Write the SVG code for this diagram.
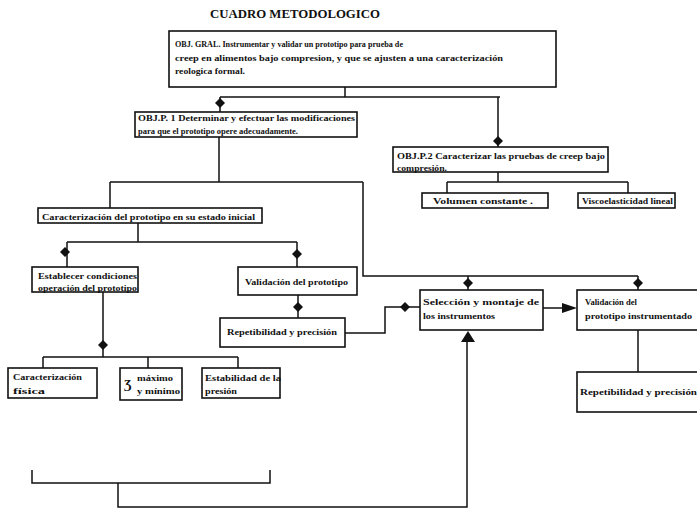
<svg xmlns="http://www.w3.org/2000/svg" xmlns:xlink="http://www.w3.org/1999/xlink" width="697" height="508" viewBox="0 0 697 508">
<style>
.box{fill:#fff;stroke:#111;stroke-width:1.6}
.t{font-family:"Liberation Serif","Times New Roman",serif;font-size:9px;font-weight:bold;fill:#111}
.ttl{font-family:"Liberation Serif","Times New Roman",serif;font-size:12px;font-weight:bold;fill:#111}
.ln{fill:none;stroke:#111;stroke-width:1.5}
.hd{fill:#111}
</style>
<defs>
<polygon id="dv" points="0,-5 5,0 0,5 -5,0" class="hd"/>
</defs>
<rect width="697" height="508" fill="#fff"/>
<text class="ttl" x="210" y="18" textLength="170" lengthAdjust="spacingAndGlyphs">CUADRO METODOLOGICO</text>

<g id="connectors">
<path class="ln" d="M345,87 V97 M220,97 H500 M220,97 V112 M498,97 V147"/>
<path class="ln" d="M219,137 V182 M110,182 H363 M110,182 V208 M363,182 V276 H638 M468,276 V290 M638,276 V290"/>
<path class="ln" d="M498,172 V182 M447,182 H628 M447,182 V193 M628,182 V193"/>
<path class="ln" d="M138,223 V242 M67,242 H297 M67,242 V267 M297,242 V267"/>
<path class="ln" d="M298,295 V318"/>
<path class="ln" d="M345,333 H385 V307 H420"/>
<path class="ln" d="M543,308 H566"/>
<polygon class="hd" points="562,303 577,308 562,313"/>
<path class="ln" d="M638,330 V372"/>
<path class="ln" d="M103,292 V357 M43,357 H238 M43,357 V368 M148,357 V368 M238,357 V368"/>
<path class="ln" d="M32,470 V483 H270 V470 M118,483 V507 H467 V338"/>
<polygon class="hd" points="461,342 468,331 475,342"/>
<use xlink:href="#dv" x="220" y="103"/>
<use xlink:href="#dv" x="498" y="141"/>
<use xlink:href="#dv" x="468" y="283"/>
<use xlink:href="#dv" x="638" y="283"/>
<use xlink:href="#dv" x="65" y="252"/>
<use xlink:href="#dv" x="297" y="254"/>
<use xlink:href="#dv" x="298" y="307"/>
<use xlink:href="#dv" x="405" y="307"/>
<use xlink:href="#dv" x="103" y="345"/>
</g>

<g id="obj-gral">
<rect class="box" x="169" y="31" width="387" height="56"/>
<text class="t" x="175" y="47" textLength="228" lengthAdjust="spacingAndGlyphs">OBJ. GRAL. Instrumentar y  validar un prototipo para prueba de</text>
<text class="t" x="175" y="61" textLength="328" lengthAdjust="spacingAndGlyphs">creep en alimentos bajo compresion, y que se ajusten a una caracterización</text>
<text class="t" x="175" y="74" textLength="70" lengthAdjust="spacingAndGlyphs">reologica formal.</text>
</g>

<g id="objp1">
<rect class="box" x="135" y="112" width="222" height="25"/>
<text class="t" x="138" y="121" textLength="217" lengthAdjust="spacingAndGlyphs">OBJ.P. 1 Determinar y efectuar las modificaciones</text>
<text class="t" x="138" y="134" textLength="160" lengthAdjust="spacingAndGlyphs">para que el prototipo opere adecuadamente.</text>
</g>

<g id="objp2">
<rect class="box" x="393" y="147" width="215" height="25"/>
<text class="t" x="397" y="159" textLength="208" lengthAdjust="spacingAndGlyphs">OBJ.P.2 Caracterizar las pruebas de creep bajo</text>
<text class="t" x="397" y="171" textLength="50" lengthAdjust="spacingAndGlyphs">compresión.</text>
</g>

<g id="volumen">
<rect class="box" x="422" y="193" width="126" height="15"/>
<text class="t" x="433" y="204" textLength="100" lengthAdjust="spacingAndGlyphs">Volumen constante .</text>
</g>

<g id="visco">
<rect class="box" x="578" y="193" width="97" height="15"/>
<text class="t" x="582" y="204" textLength="91" lengthAdjust="spacingAndGlyphs">Viscoelasticidad  lineal</text>
</g>

<g id="caract-inicial">
<rect class="box" x="38" y="208" width="224" height="15"/>
<text class="t" x="42" y="220" textLength="213" lengthAdjust="spacingAndGlyphs">Caracterización del prototipo en su estado inicial</text>
</g>

<g id="establecer">
<rect class="box" x="32" y="267" width="106" height="25"/>
<text class="t" x="38" y="279" textLength="99" lengthAdjust="spacingAndGlyphs">Establecer condiciones</text>
<text class="t" x="38" y="291" textLength="99" lengthAdjust="spacingAndGlyphs">operación del prototipo</text>
</g>

<g id="validacion">
<rect class="box" x="238" y="267" width="119" height="28"/>
<text class="t" x="245" y="285" textLength="103" lengthAdjust="spacingAndGlyphs">Validación del prototipo</text>
</g>

<g id="repet1">
<rect class="box" x="220" y="318" width="125" height="29"/>
<text class="t" x="227" y="335" textLength="110" lengthAdjust="spacingAndGlyphs">Repetibilidad y precisión</text>
</g>

<g id="seleccion">
<rect class="box" x="420" y="290" width="123" height="40"/>
<text class="t" x="423" y="305" textLength="116" lengthAdjust="spacingAndGlyphs">Selección y  montaje de</text>
<text class="t" x="423" y="319" textLength="72" lengthAdjust="spacingAndGlyphs">los instrumentos</text>
</g>

<g id="validacion-instr">
<rect class="box" x="577" y="290" width="125" height="40"/>
<text class="t" x="585" y="305" textLength="52" lengthAdjust="spacingAndGlyphs">Validación del</text>
<text class="t" x="585" y="319" textLength="107" lengthAdjust="spacingAndGlyphs">prototipo instrumentado</text>
</g>

<g id="repet2">
<rect class="box" x="577" y="372" width="125" height="40"/>
<text class="t" x="580" y="395" textLength="117" lengthAdjust="spacingAndGlyphs">Repetibilidad y precisión</text>
</g>

<g id="caract-fisica">
<rect class="box" x="8" y="368" width="89" height="30"/>
<text class="t" x="13" y="380" textLength="69" lengthAdjust="spacingAndGlyphs">Caracterización</text>
<text class="t" x="13" y="394" textLength="32" lengthAdjust="spacingAndGlyphs">física</text>
</g>

<g id="maxmin">
<rect class="box" x="120" y="368" width="62" height="32"/>
<text class="t" x="124" y="388" style="font-size:13px">Ʒ</text>
<text class="t" x="137" y="381" textLength="36" lengthAdjust="spacingAndGlyphs">máximo</text>
<text class="t" x="137" y="394" textLength="43" lengthAdjust="spacingAndGlyphs">y mínimo</text>
</g>

<g id="estabilidad">
<rect class="box" x="202" y="368" width="78" height="30"/>
<text class="t" x="205" y="381" textLength="76" lengthAdjust="spacingAndGlyphs">Estabilidad de la</text>
<text class="t" x="205" y="394" textLength="32" lengthAdjust="spacingAndGlyphs">presión</text>
</g>
</svg>
